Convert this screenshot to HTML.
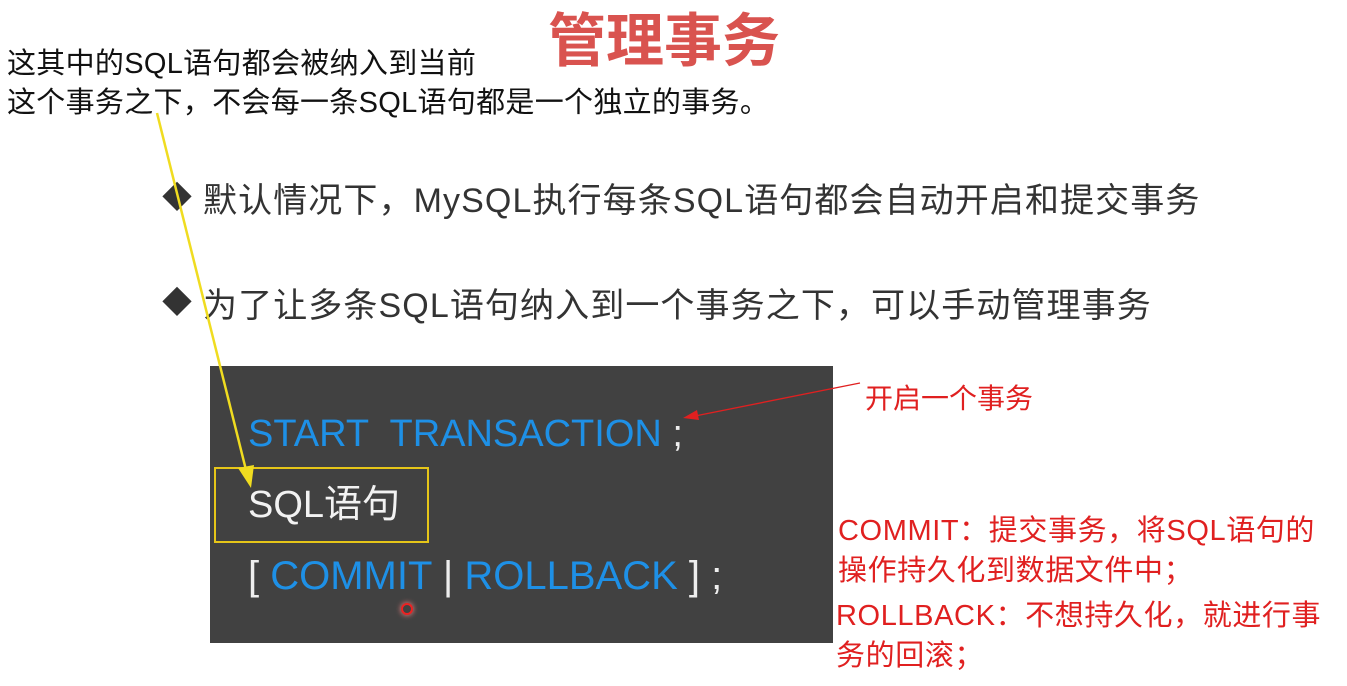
<!DOCTYPE html>
<html><head><meta charset="utf-8"><style>
body{margin:0;width:1347px;height:686px;background:#fff;position:relative;overflow:hidden;font-family:"Liberation Sans","Noto Sans CJK SC",sans-serif;}
.a{position:absolute;white-space:nowrap;line-height:1;}
</style></head><body>
<div class="a" style="left:548px;top:13px;font-size:58px;font-weight:bold;color:#d9534f;">管理事务</div>
<div class="a" style="left:7px;top:50px;font-size:29px;color:#111;letter-spacing:0.3px;">这其中的SQL语句都会被纳入到当前</div>
<div class="a" style="left:7px;top:89px;font-size:29px;color:#111;letter-spacing:0.3px;">这个事务之下，不会每一条SQL语句都是一个独立的事务。</div>
<div class="a" style="left:162px;top:184px;font-size:30px;color:#333;">◆</div>
<div class="a" style="left:203px;top:184px;font-size:34px;color:#333;letter-spacing:1.1px;">默认情况下，MySQL执行每条SQL语句都会自动开启和提交事务</div>
<div class="a" style="left:162px;top:289px;font-size:30px;color:#333;">◆</div>
<div class="a" style="left:203px;top:289px;font-size:34px;color:#333;letter-spacing:1.1px;">为了让多条SQL语句纳入到一个事务之下，可以手动管理事务</div>
<div class="a" style="left:210px;top:366px;width:623px;height:277px;background:#414141;"></div>
<div class="a" style="left:214px;top:467px;width:211px;height:72px;border:2px solid #e6c619;"></div>
<div class="a" style="left:248px;top:415px;font-size:38px;color:#1e90e6;">START&nbsp; TRANSACTION <span style="color:#eee">;</span></div>
<div class="a" style="left:248px;top:486px;font-size:38px;color:#f2f2f2;">SQL语句</div>
<div class="a" style="left:248px;top:556px;font-size:40px;color:#eee;">[ <span style="color:#1e90e6">COMMIT</span> | <span style="color:#1e90e6">ROLLBACK</span> ] ;</div>
<div class="a" style="left:401px;top:603px;width:8px;height:8px;border:2px solid #e22;border-radius:50%;box-shadow:0 0 6px #f88;"></div>
<div class="a" style="left:865px;top:385px;font-size:28px;color:#e02020;">开启一个事务</div>
<div class="a" style="left:838px;top:511px;font-size:29px;color:#e02020;line-height:40px;letter-spacing:0.6px;">COMMIT：提交事务，将SQL语句的<br>操作持久化到数据文件中；</div>
<div class="a" style="left:836px;top:596px;font-size:29px;color:#e02020;line-height:40px;letter-spacing:0.6px;">ROLLBACK：不想持久化，就进行事<br>务的回滚；</div>
<svg class="a" style="left:0;top:0" width="1347" height="686">
<line x1="157" y1="113" x2="246" y2="470" stroke="#f0dc20" stroke-width="2.5"/>
<polygon points="251,488 238,468 254,465" fill="#f0dc20"/>
<line x1="860" y1="383" x2="695" y2="416" stroke="#e02020" stroke-width="1.3"/>
<polygon points="683,418 697,410 699,420" fill="#e02020"/>
</svg>
</body></html>
